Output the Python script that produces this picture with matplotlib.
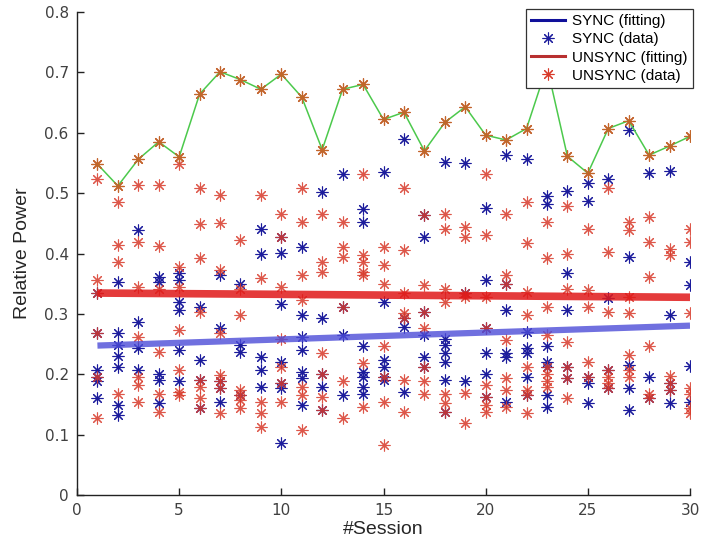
import matplotlib
matplotlib.use("Agg")
import matplotlib.pyplot as plt
from matplotlib.lines import Line2D
import numpy as np

# relative power per session
sessions = list(range(1, 31))

sync_data = [
    [0.334, 0.269, 0.207, 0.196, 0.188, 0.160],
    [0.353, 0.268, 0.248, 0.230, 0.212, 0.149, 0.132],
    [0.439, 0.287, 0.243, 0.207],
    [0.361, 0.353, 0.201, 0.190, 0.152],
    [0.367, 0.356, 0.320, 0.306, 0.240, 0.188],
    [0.312, 0.224, 0.190, 0.144],
    [0.364, 0.276, 0.188, 0.177, 0.154],
    [0.350, 0.248, 0.237, 0.166],
    [0.441, 0.400, 0.229, 0.207, 0.179],
    [0.428, 0.401, 0.317, 0.221, 0.185, 0.178, 0.086],
    [0.411, 0.298, 0.262, 0.240, 0.204, 0.193, 0.149],
    [0.502, 0.293, 0.201, 0.179, 0.141],
    [0.531, 0.312, 0.265, 0.166],
    [0.473, 0.453, 0.246, 0.204, 0.196, 0.179, 0.168],
    [0.535, 0.320, 0.224, 0.212, 0.196, 0.190],
    [0.590, 0.293, 0.279, 0.171],
    [0.464, 0.427, 0.303, 0.265, 0.229, 0.212],
    [0.551, 0.259, 0.248, 0.235, 0.221, 0.190, 0.138],
    [0.550, 0.334, 0.188],
    [0.476, 0.356, 0.276, 0.235, 0.201, 0.163],
    [0.563, 0.350, 0.306, 0.235, 0.229, 0.154],
    [0.556, 0.270, 0.243, 0.235, 0.196, 0.166],
    [0.495, 0.482, 0.246, 0.221, 0.212, 0.166, 0.146],
    [0.504, 0.367, 0.306, 0.212, 0.193],
    [0.516, 0.487, 0.196, 0.185, 0.152],
    [0.523, 0.326, 0.207, 0.177],
    [0.604, 0.395, 0.215, 0.177, 0.141],
    [0.534, 0.196, 0.160],
    [0.537, 0.298, 0.185, 0.174, 0.152],
    [0.386, 0.348, 0.214, 0.154],
]

unsync_data = [
    [0.548, 0.523, 0.356, 0.334, 0.269, 0.196, 0.127],
    [0.486, 0.512, 0.414, 0.386, 0.168],
    [0.556, 0.513, 0.419, 0.345, 0.262, 0.196, 0.182, 0.154],
    [0.585, 0.514, 0.413, 0.342, 0.237, 0.168, 0.138],
    [0.560, 0.549, 0.378, 0.345, 0.273, 0.207, 0.171, 0.166],
    [0.664, 0.509, 0.449, 0.392, 0.303, 0.190, 0.179, 0.160, 0.144],
    [0.701, 0.497, 0.451, 0.373, 0.268, 0.199, 0.188, 0.177, 0.136],
    [0.688, 0.423, 0.342, 0.298, 0.174, 0.166, 0.157, 0.144],
    [0.672, 0.497, 0.359, 0.154, 0.135, 0.113],
    [0.697, 0.466, 0.428, 0.345, 0.259, 0.212, 0.185, 0.154],
    [0.659, 0.508, 0.453, 0.364, 0.323, 0.179, 0.166, 0.108],
    [0.572, 0.466, 0.386, 0.370, 0.235, 0.201, 0.163, 0.141],
    [0.672, 0.453, 0.410, 0.395, 0.312, 0.188, 0.127],
    [0.680, 0.531, 0.397, 0.386, 0.370, 0.364, 0.218, 0.146],
    [0.622, 0.410, 0.381, 0.350, 0.246, 0.196, 0.154, 0.083],
    [0.634, 0.508, 0.406, 0.334, 0.301, 0.293, 0.190, 0.138],
    [0.570, 0.464, 0.348, 0.303, 0.276, 0.212, 0.188, 0.168],
    [0.617, 0.466, 0.441, 0.342, 0.320, 0.168, 0.152, 0.138],
    [0.643, 0.444, 0.427, 0.334, 0.328, 0.169, 0.120],
    [0.596, 0.531, 0.430, 0.328, 0.276, 0.182, 0.163, 0.149, 0.138],
    [0.588, 0.466, 0.364, 0.350, 0.257, 0.193, 0.174, 0.146],
    [0.607, 0.486, 0.418, 0.337, 0.298, 0.212, 0.174, 0.166, 0.136],
    [0.710, 0.453, 0.392, 0.312, 0.265, 0.212, 0.201, 0.188, 0.179],
    [0.561, 0.478, 0.399, 0.341, 0.254, 0.212, 0.193, 0.160],
    [0.533, 0.440, 0.339, 0.312, 0.221, 0.196],
    [0.607, 0.508, 0.403, 0.303, 0.207, 0.196, 0.185, 0.177],
    [0.620, 0.453, 0.439, 0.328, 0.301, 0.232, 0.207, 0.196],
    [0.563, 0.460, 0.419, 0.361, 0.246, 0.168, 0.160],
    [0.578, 0.408, 0.397, 0.197, 0.185, 0.174],
    [0.594, 0.441, 0.419, 0.301, 0.177, 0.168, 0.144, 0.135],
]

# linear fits (value at first and last session)
sync_fit = [0.2475, 0.2805]
unsync_fit = [0.3345, 0.3275]


def flatten(data):
    xs, ys = [], []
    for s, vals in zip(sessions, data):
        xs += [s] * len(vals)
        ys += vals
    return xs, ys


sx, sy = flatten(sync_data)
ux, uy = flatten(unsync_data)
top = [max(v) for v in unsync_data]

asterisk = (8, 2, 0)
mk = dict(ls="none", marker=asterisk, ms=8.5, mew=0.8)

fig = plt.figure(figsize=(7.01, 5.5), dpi=100)
ax = fig.add_axes([77 / 701, 55 / 550, 613 / 701, 483 / 550])

ax.plot(sx, sy, color="#1c1c9c", **mk)
ax.plot(ux, uy, color="#d83a2a", alpha=0.85, **mk)
ax.plot(sessions, top, color="#4cc94c", lw=1.1)
ax.plot(sessions, top, color="#c0672a", **mk)

ax.plot([sessions[0], sessions[-1]], unsync_fit, color="#e01818", lw=5.5, alpha=0.85,
        solid_capstyle="butt")
ax.plot([sessions[0], sessions[-1]], sync_fit, color="#4c4cd8", lw=4.5, alpha=0.8,
        solid_capstyle="butt")

ax.set_xlim(0, 30)
ax.set_ylim(0, 0.8)
ax.set_xticks([0, 5, 10, 15, 20, 25, 30])
ax.set_yticks(np.arange(0, 0.81, 0.1))
ax.set_yticklabels(["0", "0.1", "0.2", "0.3", "0.4", "0.5", "0.6", "0.7", "0.8"])
ax.spines["top"].set_visible(False)
ax.spines["right"].set_visible(False)
for sp in ["left", "bottom"]:
    ax.spines[sp].set_linewidth(1.0)
    ax.spines[sp].set_color("#222222")
ax.tick_params(direction="in", length=5, width=1, labelsize=11,
               labelcolor="#404040", colors="#222222", pad=6)

ax.set_xlabel("#Session", fontsize=14, family="Liberation Sans", color="#262626",
              labelpad=2)
ax.set_ylabel("Relative Power", fontsize=14, family="Liberation Sans", color="#262626",
              labelpad=10)

handles = [
    Line2D([], [], color="#10109a", lw=2.2),
    Line2D([], [], color="#1c1c9c", **mk),
    Line2D([], [], color="#b83030", lw=2.2),
    Line2D([], [], color="#d83a2a", **mk),
]
labels = ["SYNC (fitting)", "SYNC (data)", "UNSYNC (fitting)", "UNSYNC (data)"]
leg = ax.legend(handles, labels, loc="upper right",
                bbox_to_anchor=(693 / 701, 1 - 9 / 550), bbox_transform=fig.transFigure,
                borderaxespad=0, prop={"family": "Liberation Sans", "size": 11},
                fancybox=False, framealpha=1, edgecolor="#333333",
                handlelength=2.2, handletextpad=0.5, labelspacing=0.27,
                borderpad=0.35)
leg.get_frame().set_linewidth(0.9)
leg.set_zorder(10)

fig.savefig("out.png", dpi=100)
